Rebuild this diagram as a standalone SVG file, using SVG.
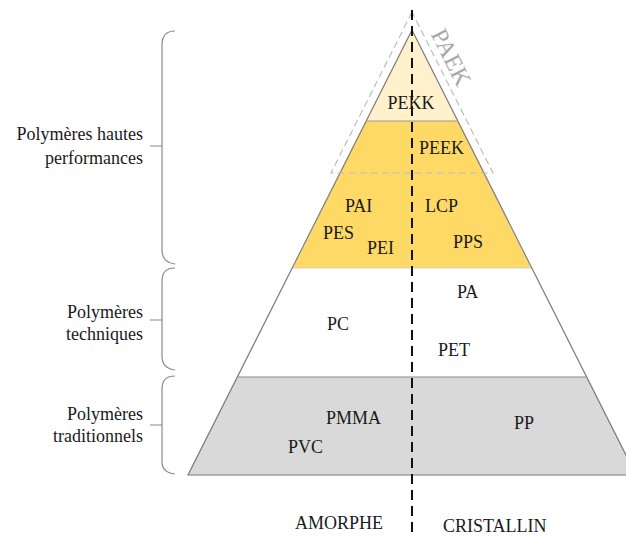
<svg xmlns="http://www.w3.org/2000/svg" width="626" height="536" viewBox="0 0 626 536">
<style>
text{font-family:"Liberation Serif","Times New Roman",serif;font-size:18px;fill:#1a1a1a}
.lbl{text-anchor:end}
.brace{fill:none;stroke:#8a8a8a;stroke-width:1.2}
.sep{stroke-width:1.2;fill:none}
</style>
<rect width="626" height="536" fill="#ffffff"/>
<g id="band-traditionnels">
<polygon points="237,377 587,377 636,475 188,475" fill="#d9d9d9"/>
</g>
<g id="band-techniques">
<polygon points="293,268 531,268 587,377 237,377" fill="#ffffff"/>
</g>
<g id="band-hautes">
<polygon points="366,121 458,121 531,268 293,268" fill="#fed966"/>
</g>
<g id="band-pekk">
<polygon points="412,30 366,121 458,121" fill="#fff1cc"/>
</g>
<g id="pyramid-outline">
<polygon points="412,30 188,475 636,475" fill="none" stroke="#7a7a7a" stroke-width="1.2"/>
<line class="sep" x1="366" y1="121" x2="458" y2="121" stroke="#9a9a9a"/>
<line class="sep" x1="293" y1="268" x2="531" y2="268" stroke="#cfcfcf"/>
<line class="sep" x1="237" y1="377" x2="587" y2="377" stroke="#8a8a8a"/>
</g>
<g id="paek">
<polygon points="412,12 331,173 493,173" fill="none" stroke="#bdbdbd" stroke-width="1.2" stroke-dasharray="7 4"/>
<text transform="translate(444,61) rotate(63.3)" text-anchor="middle" style="font-size:24px;fill:#a8a8a8">PAEK</text>
</g>
<g id="connectors">
<line x1="412" y1="10" x2="412" y2="532" stroke="#111" stroke-width="2" stroke-dasharray="10 6"/>
</g>
<g id="braces">
<path class="brace" d="M175,31 C166,31 162,36 162,45 L162,250 C162,258 166,263 175,264 M150,146 L162,146"/>
<path class="brace" d="M175,268 C166,268 162,273 162,281 L162,356 C162,364 166,369 175,370 M150,320 L162,320"/>
<path class="brace" d="M175,376 C166,376 162,381 162,389 L162,462 C162,469 166,473 175,474 M150,425 L162,425"/>
</g>
<g id="label-hautes">
<text class="lbl" x="143" y="140">Polymères hautes</text>
<text class="lbl" x="143" y="164">performances</text>
</g>
<g id="label-techniques">
<text class="lbl" x="143" y="318">Polymères</text>
<text class="lbl" x="143" y="340">techniques</text>
</g>
<g id="label-traditionnels">
<text class="lbl" x="143" y="420">Polymères</text>
<text class="lbl" x="143" y="442">traditionnels</text>
</g>
<g id="polymers">
<text x="411" y="109" text-anchor="middle">PEKK</text>
<text x="419" y="154">PEEK</text>
<text x="345" y="212">PAI</text>
<text x="425" y="212">LCP</text>
<text x="323" y="239">PES</text>
<text x="367" y="254">PEI</text>
<text x="453" y="248">PPS</text>
<text x="457" y="298">PA</text>
<text x="327" y="330">PC</text>
<text x="438" y="356">PET</text>
<text x="326" y="424">PMMA</text>
<text x="288" y="453">PVC</text>
<text x="514" y="429">PP</text>
</g>
<g id="axis-labels">
<text x="295" y="529">AMORPHE</text>
<text x="443" y="532">CRISTALLIN</text>
</g>
</svg>
